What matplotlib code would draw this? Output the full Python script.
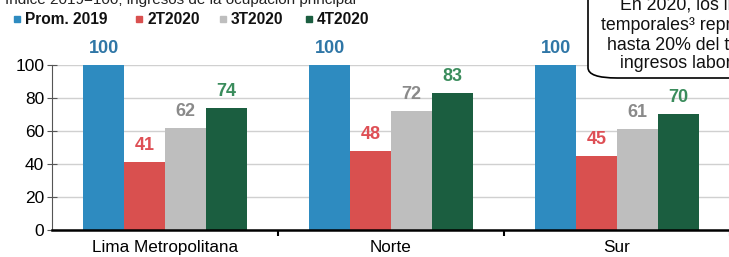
import matplotlib
matplotlib.use("Agg")
import matplotlib.pyplot as plt
from matplotlib.patches import Rectangle, FancyBboxPatch
import numpy as np

plt.rcParams["font.family"] = ["Liberation Sans", "DejaVu Sans"]

categories = ["Lima Metropolitana", "Norte", "Sur"]
series_names = ["Prom. 2019", "2T2020", "3T2020", "4T2020"]
values = {
    "Prom. 2019": [100, 100, 100],
    "2T2020": [41, 48, 45],
    "3T2020": [62, 72, 61],
    "4T2020": [74, 83, 70],
}
bar_colors = ["#2E8BC0", "#D9504F", "#BEBEBE", "#1B5E40"]
label_colors = ["#2F76A6", "#DE4F55", "#8A8A8A", "#3A8C5C"]
yticks = [0, 20, 40, 60, 80, 100]

W, H = 729, 257
fig = plt.figure(figsize=(W / 100, H / 100), dpi=100)
ax = fig.add_axes([52 / W, 27 / H, 678 / W, 165 / H])

x = np.arange(len(categories))
bw = 0.181
for i, name in enumerate(series_names):
    pos = x + (i - 1.5) * bw
    ax.bar(pos, values[name], width=bw, color=bar_colors[i], zorder=3)
    for px, v in zip(pos, values[name]):
        ax.annotate(str(v), (px, v), xytext=(0, 12), textcoords="offset points",
                    ha="center", va="center", fontsize=13, fontweight="bold",
                    color=label_colors[i], annotation_clip=False)

ax.set_xlim(-0.5, len(categories) - 0.5)
ax.set_ylim(0, 100)
ax.set_yticks(yticks)
ax.tick_params(axis="y", length=7, direction="inout", color="#555555", width=0.8,
               labelsize=12.5, pad=2)
ax.yaxis.grid(True, color="#D0D0D0", linewidth=1, zorder=0)
ax.set_axisbelow(True)
for s in ["top", "right"]:
    ax.spines[s].set_visible(False)
ax.spines["left"].set_color("#555555")
ax.spines["left"].set_linewidth(0.8)
ax.spines["bottom"].set_linewidth(1.8)
ax.spines["bottom"].set_color("black")
ax.spines["bottom"].set_zorder(4)

# category labels centered, separator ticks at boundaries
ax.set_xticks(x)
ax.set_xticklabels(categories, fontsize=12.3)
ax.tick_params(axis="x", length=0, pad=7)
ax.set_xticks(np.arange(len(categories)) + 0.5, minor=True)
ax.tick_params(axis="x", which="minor", length=4, width=1.5, color="black")

# Legend (manual)
leg_x = [14, 136, 220, 306]
for i, name in enumerate(series_names):
    fig.patches.append(Rectangle(((leg_x[i]) / W, (H - 22) / H), 6 / W, 6 / H,
                                 transform=fig.transFigure, color=bar_colors[i]))
    fig.text((leg_x[i] + 11) / W, (H - 19) / H, name, fontsize=11.2, fontweight="bold",
             va="center", ha="left", color="#111111")

# Cropped subtitle at top
fig.text(5 / W, 1 + 1 / H, "Índice 2019=100; ingresos de la ocupación principal",
         fontsize=11, va="center", ha="left", color="#222222")

# Cropped callout box in top right
box = FancyBboxPatch((588 / W, (H - 78) / H), 200 / W, 100 / H,
                     boxstyle="round,pad=0,rounding_size=0.04",
                     transform=fig.transFigure, facecolor="white",
                     edgecolor="black", linewidth=1.2, zorder=10)
fig.patches.append(box)
lines = [("En 2020, los ingresos", 620, 5),
         ("temporales³ representaron", 601, 25),
         ("hasta 20% del total de", 607, 45),
         ("ingresos laborales", 620, 64)]
for t, lx, ly in lines:
    fig.text(lx / W, (H - ly) / H, t, fontsize=12.8, va="center", ha="left",
             color="#111111", zorder=11)

fig.savefig("out.png", dpi=100)
